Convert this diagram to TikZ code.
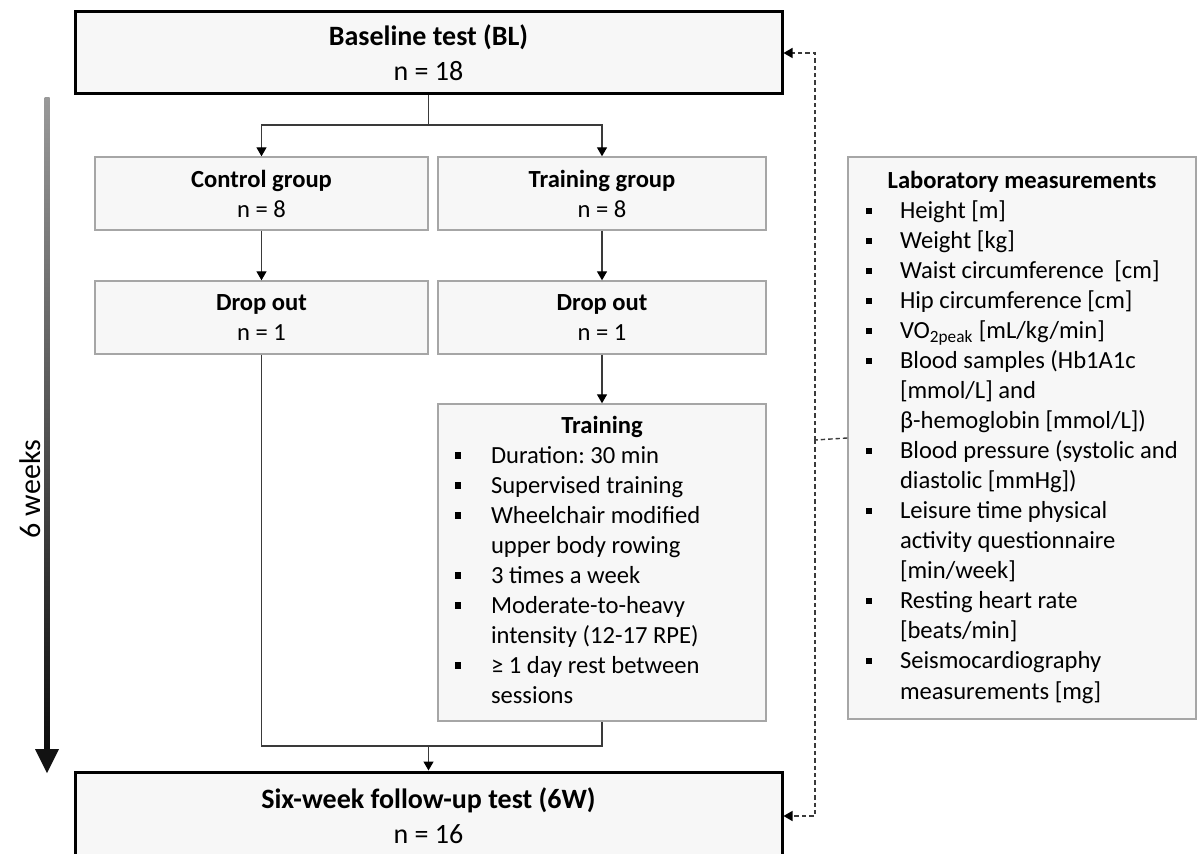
\documentclass[tikz,border=0pt]{standalone}
\usepackage{fontspec}
\setmainfont{Carlito}
\usetikzlibrary{arrows.meta}
\definecolor{boxfill}{HTML}{F7F7F7}
\definecolor{boxline}{HTML}{A6A6A6}
\definecolor{lineC}{HTML}{3A3A3A}
\newcommand{\sqb}{\rule[0.2em]{3.2pt}{3.2pt}}
\frenchspacing
\begin{document}
\begin{tikzpicture}[x=0.5pt,y=-0.5pt,
  bigbox/.style={draw=black,line width=1.5pt,fill=boxfill,inner sep=0pt,align=center,
    font=\fontsize{14}{17.5}\selectfont},
  smallbox/.style={draw=boxline,line width=0.7pt,fill=boxfill,inner sep=0pt,align=center,
    font=\fontsize{12.3}{15}\selectfont},
  listbox/.style={draw=boxline,line width=0.7pt,fill=boxfill,inner sep=0pt,
    font=\fontsize{12.3}{15}\selectfont},
  conn/.style={draw=lineC,line width=0.7pt,-{Triangle[width=5pt,length=4.5pt,color=black]}},
  plainconn/.style={draw=lineC,line width=0.7pt},
  dconn/.style={draw=lineC,line width=0.7pt,dash pattern=on 2.2pt off 1.5pt},
  dconnarrow/.style={dconn,-{Triangle[width=5pt,length=4.5pt,color=black]}},
  ]
\useasboundingbox (0,0) rectangle (1197,854);

% main boxes
\node[bigbox,minimum width=353.5pt,minimum height=41pt] (BL) at (428.5,53)
  {\textbf{Baseline test (BL)}\\ n = 18};
\node[bigbox,minimum width=353.5pt,minimum height=44pt] (SW) at (428.5,816)
  {\textbf{Six-week follow-up test (6W)}\\ n = 16};

\node[smallbox,minimum width=166.5pt,minimum height=36.5pt] (CG) at (261.5,193.5)
  {\textbf{Control group}\\ n = 8};
\node[smallbox,minimum width=164pt,minimum height=36.5pt] (TG) at (602,193.5)
  {\textbf{Training group}\\ n = 8};
\node[smallbox,minimum width=166.5pt,minimum height=36.5pt] (DO1) at (261.5,317.5)
  {\textbf{Drop out}\\ n = 1};
\node[smallbox,minimum width=164pt,minimum height=36.5pt] (DO2) at (602,317.5)
  {\textbf{Drop out}\\ n = 1};

\node[listbox,minimum width=164pt,minimum height=158.5pt] (TR) at (602,562.5)
  {\begin{tabular}{@{\hspace{8.5pt}}p{18pt}@{}p{137.5pt}@{}}
    \multicolumn{2}{@{}c@{}}{\textbf{Training}}\\
    \sqb & Duration: 30 min\\
    \sqb & Supervised training\\
    \sqb & Wheelchair modified\\
         & upper body rowing\\
    \sqb & 3 times a week\\
    \sqb & Moderate-to-heavy\\
         & intensity (12-17 RPE)\\
    \sqb & ≥ 1 day rest between\\
         & sessions
  \end{tabular}};

\node[listbox,minimum width=174pt,minimum height=281pt] (LAB) at (1022,438)
  {\begin{tabular}{@{\hspace{9pt}}p{17pt}@{}p{148pt}@{}}
    \multicolumn{2}{@{}c@{}}{\textbf{Laboratory measurements}}\\
    \sqb & Height [m]\\
    \sqb & Weight [kg]\\
    \sqb & Waist circumference\hspace{0.2em} [cm]\\
    \sqb & Hip circumference [cm]\\
    \sqb & VO\textsubscript{2peak} [mL/kg/min]\\
    \sqb & Blood samples (Hb1A1c\\
         & [mmol/L] and\\
         & β-hemoglobin [mmol/L])\\
    \sqb & Blood pressure (systolic and\\
         & diastolic [mmHg])\\
    \sqb & Leisure time physical\\
         & activity questionnaire\\
         & [min/week]\\
    \sqb & Resting heart rate\\
         & [beats/min]\\
    \sqb & Seismocardiography\\
         & measurements [mg]
  \end{tabular}};

% connectors
\coordinate (split) at (428.5,125);
\coordinate (merge) at (428.5,746);
\coordinate (dj) at (815,440);
\draw[plainconn] (BL.south) -- (split);
\draw[conn] (split) -| (CG.north);
\draw[conn] (split) -| (TG.north);
\draw[conn] (CG.south) -- (DO1.north);
\draw[conn] (TG.south) -- (DO2.north);
\draw[conn] (DO2.south) -- (TR.north);
\draw[plainconn] (DO1.south) |- (merge) -| (TR.south);
\draw[conn] (merge) -- (SW.north);

\draw[dconn] (LAB.west) -- (dj);
\draw[dconnarrow] (dj) |- (BL.east);
\draw[dconnarrow] (dj) |- (SW.east);

% time arrow
\shade[top color=black!40, bottom color=black!95] (44.5,98) rectangle (49.5,752);
\fill[black!93] (35,749) -- (59,749) -- (47,773) -- cycle;
\node[rotate=90,font=\fontsize{15}{18}\selectfont] (weeks) at (30,489) {6 weeks};
\end{tikzpicture}
\end{document}
